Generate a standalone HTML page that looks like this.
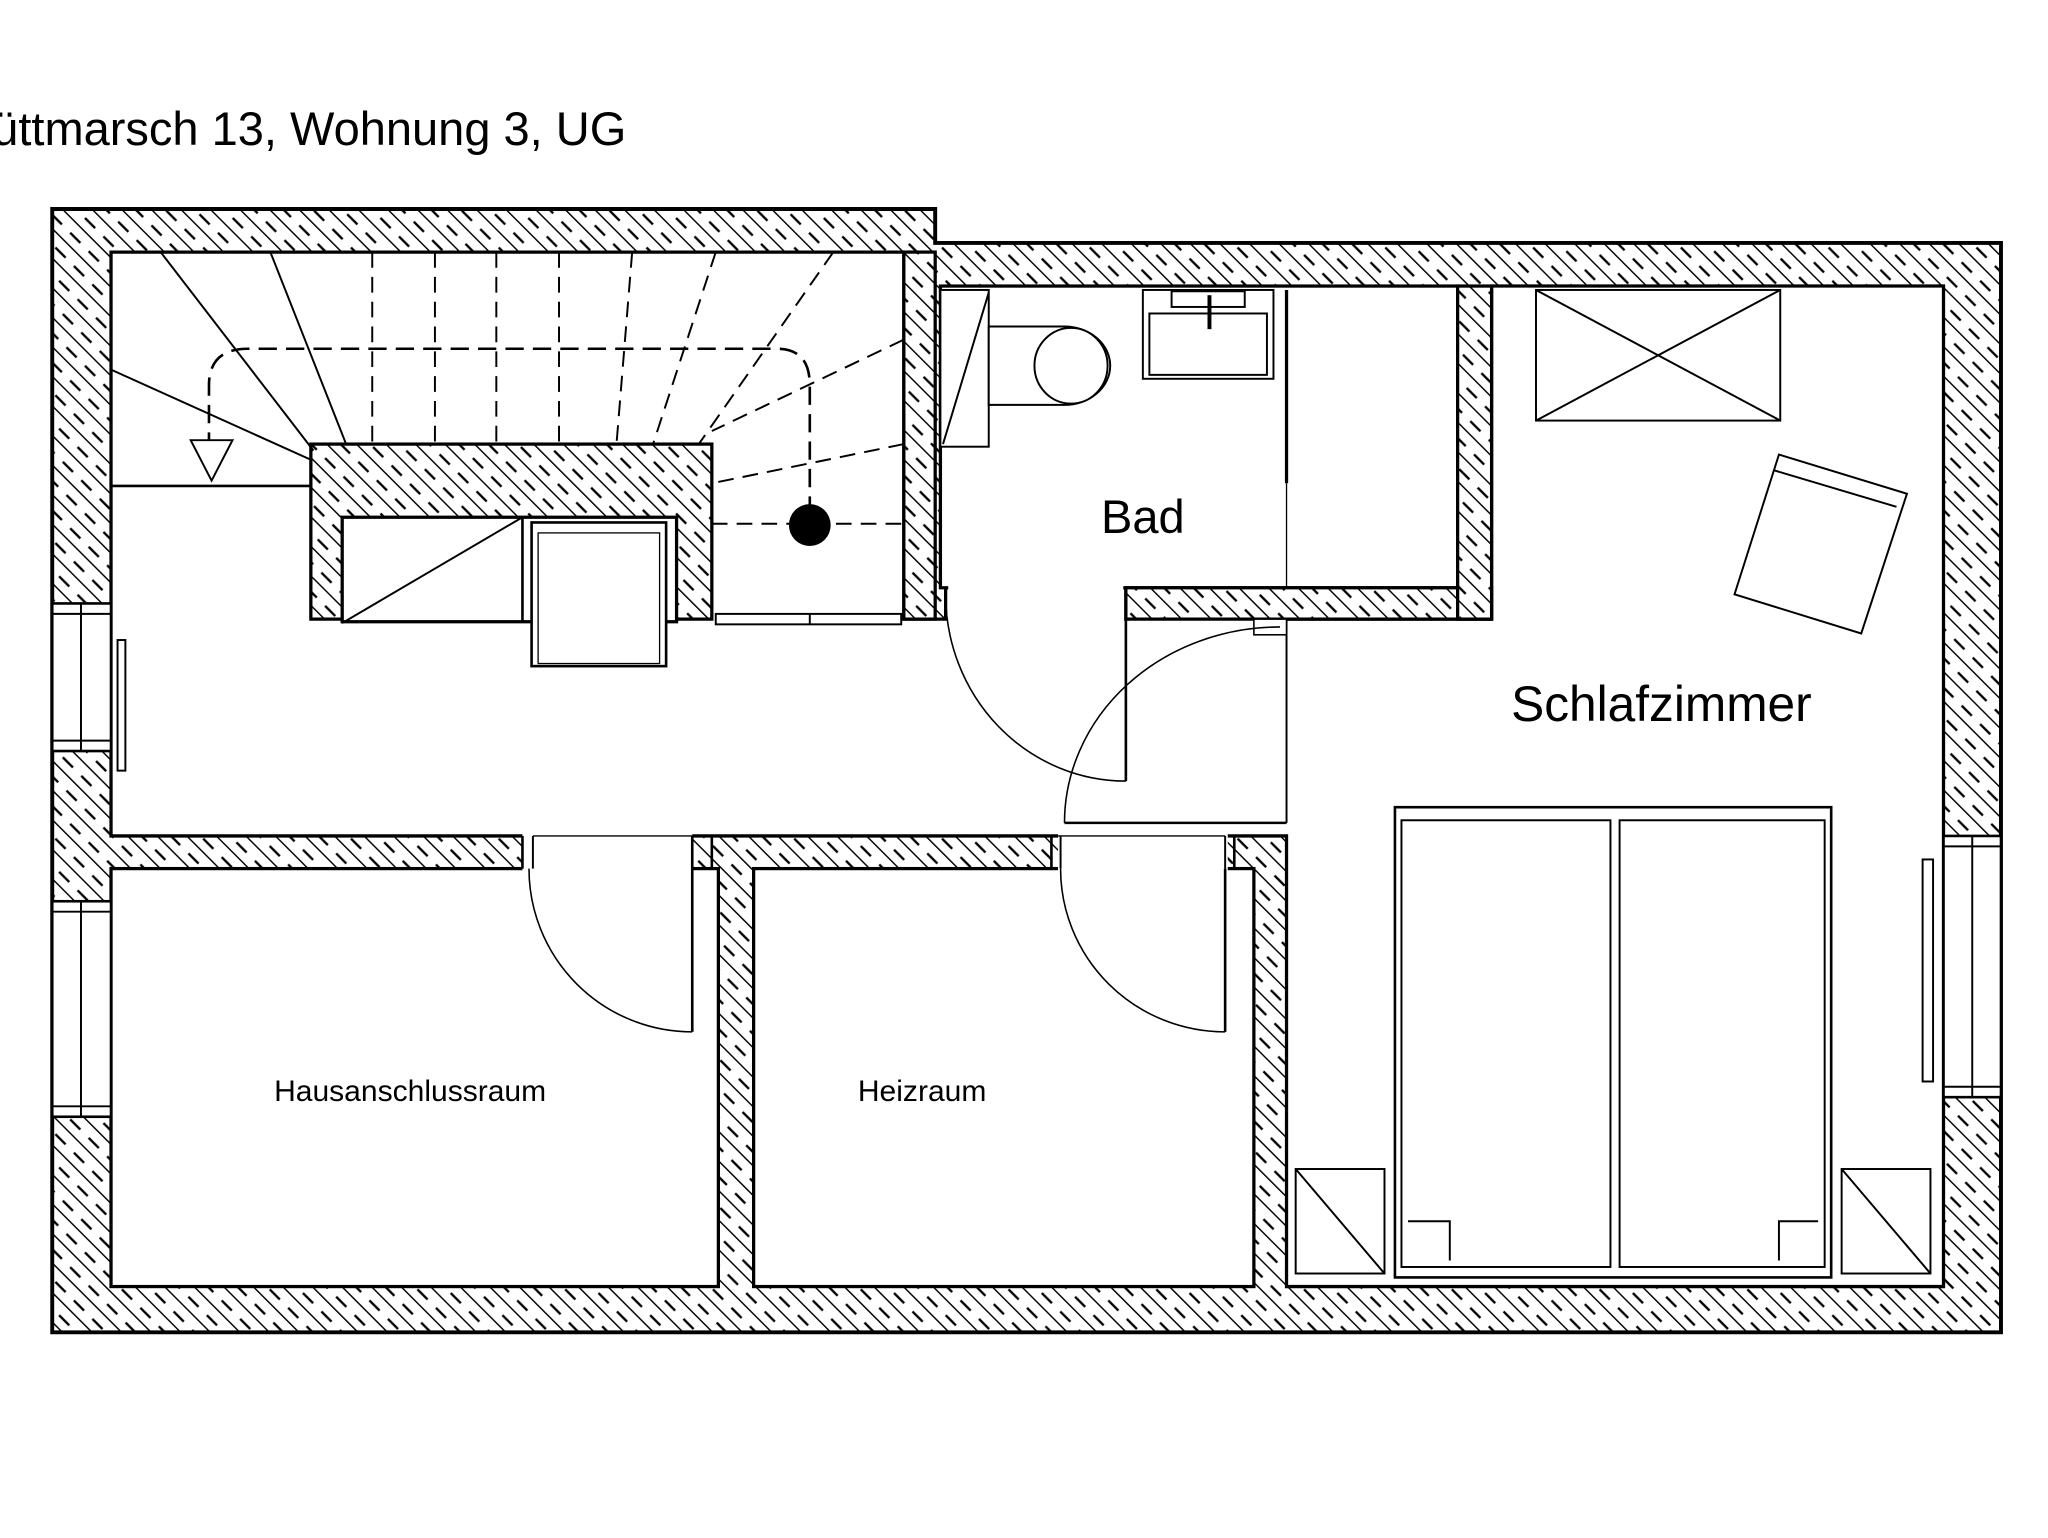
<!DOCTYPE html>
<html><head><meta charset="utf-8"><style>
html,body{margin:0;padding:0;background:#fff;}
svg{display:block;}
text{font-family:"Liberation Sans",sans-serif;fill:#000;}
</style></head><body>
<svg width="2048" height="1538" viewBox="0 0 1568 1177.5" preserveAspectRatio="none" xmlns="http://www.w3.org/2000/svg">
<defs>
<pattern id="h" patternUnits="userSpaceOnUse" width="16" height="20" patternTransform="rotate(-45)">
<rect width="16" height="20" fill="#fff"/>
<line x1="0" y1="0" x2="0" y2="20" stroke="#000" stroke-width="2.2"/>
<line x1="8" y1="4" x2="8" y2="15" stroke="#000" stroke-width="1.8"/>
</pattern>
</defs>
<rect width="1568" height="1177.5" fill="#fff"/>
<text x="-6" y="111" font-size="36">üttmarsch 13, Wohnung 3, UG</text>

<polygon points="40,160 716,160 716,186 1532,186 1532,1020 40,1020" fill="url(#h)" stroke="#000" stroke-width="3"/>

<g fill="#fff" stroke="#000" stroke-width="2.5">
<polygon points="85,193 692,193 692,474 724,474 724,450 862,450 862,474 1142,474 1142,219 1488,219 1488,985 985,985 985,640 85,640"/>
<rect x="720" y="219" width="396" height="231"/>
<rect x="85" y="665" width="465" height="320"/>
<rect x="577" y="665" width="383" height="320"/>
</g>
<rect x="726" y="447" width="134" height="6" fill="#fff"/>
<rect x="864" y="474" width="119" height="4" fill="#fff"/>
<rect x="862" y="450" width="280" height="24" fill="url(#h)" stroke="#000" stroke-width="2.5"/>
<rect x="692" y="193" width="24" height="281" fill="url(#h)" stroke="#000" stroke-width="2.5"/>
<rect x="1116" y="219" width="26" height="255" fill="url(#h)" stroke="#000" stroke-width="2.5"/>
<line x1="985" y1="474" x2="985" y2="630" stroke="#000" stroke-width="1.5"/>
<rect x="960" y="474" width="25" height="12" fill="#fff" stroke="#000" stroke-width="1.2"/>
<rect x="400" y="638" width="130" height="29" fill="#fff"/>
<rect x="810" y="638" width="130" height="29" fill="#fff"/>
<line x1="400" y1="640" x2="400" y2="665" stroke="#000" stroke-width="2"/><line x1="408" y1="640" x2="408" y2="665" stroke="#000" stroke-width="1.5"/>
<line x1="530" y1="640" x2="530" y2="665" stroke="#000" stroke-width="2"/><line x1="545" y1="640" x2="545" y2="665" stroke="#000" stroke-width="2"/>
<line x1="805" y1="640" x2="805" y2="665" stroke="#000" stroke-width="2"/><line x1="812" y1="640" x2="812" y2="665" stroke="#000" stroke-width="1.5"/>
<line x1="938" y1="640" x2="938" y2="665" stroke="#000" stroke-width="1.5"/><line x1="945" y1="640" x2="945" y2="665" stroke="#000" stroke-width="2"/>
<line x1="408" y1="640" x2="938" y2="640" stroke="#000" stroke-width="1"/>

<g fill="#fff" stroke="#000" stroke-width="2">
<rect x="40" y="462" width="45" height="113"/><rect x="40" y="690" width="45" height="165"/><rect x="1488" y="640" width="44" height="200"/>
</g>
<g stroke="#000" stroke-width="1.5">
<line x1="62" y1="462" x2="62" y2="575"/><line x1="40" y1="470" x2="85" y2="470"/><line x1="40" y1="567" x2="85" y2="567"/>
<line x1="62" y1="690" x2="62" y2="855"/><line x1="40" y1="698" x2="85" y2="698"/><line x1="40" y1="847" x2="85" y2="847"/>
<line x1="1510" y1="640" x2="1510" y2="840"/><line x1="1488" y1="648" x2="1532" y2="648"/><line x1="1488" y1="832" x2="1532" y2="832"/>
</g>
<rect x="90" y="490" width="6" height="100" fill="#fff" stroke="#000" stroke-width="1.5"/>
<rect x="1472" y="658" width="8" height="170" fill="#fff" stroke="#000" stroke-width="1.5"/>

<rect x="238" y="340" width="307" height="134" fill="url(#h)" stroke="#000" stroke-width="2.5"/>
<rect x="262" y="396" width="256" height="80" fill="#fff" stroke="#000" stroke-width="2.5"/>
<line x1="262" y1="477" x2="400" y2="396" stroke="#000" stroke-width="1.5"/>
<line x1="400" y1="396" x2="400" y2="477" stroke="#000" stroke-width="2"/>
<rect x="407" y="400" width="103" height="110" fill="#fff" stroke="#000" stroke-width="2"/>
<rect x="412" y="408" width="93" height="100" fill="none" stroke="#000" stroke-width="1"/>
<rect x="548" y="470" width="142" height="8" fill="#fff" stroke="#000" stroke-width="1.5"/>
<line x1="620" y1="470" x2="620" y2="478" stroke="#000" stroke-width="1.5"/>

<g stroke="#000" stroke-width="1.5" fill="none">
<line x1="123" y1="193" x2="240" y2="345"/><line x1="207" y1="193" x2="265" y2="340"/><line x1="85" y1="283" x2="238" y2="352"/>
<line x1="85" y1="372" x2="238" y2="372" stroke-width="2"/>
</g>
<g stroke="#000" stroke-width="1.5" fill="none" stroke-dasharray="12 7">
<line x1="285" y1="193" x2="285" y2="340"/><line x1="333" y1="193" x2="333" y2="340"/><line x1="380" y1="193" x2="380" y2="340"/><line x1="428" y1="193" x2="428" y2="340"/>
<line x1="484" y1="193" x2="472" y2="340"/><line x1="548" y1="193" x2="500" y2="340"/><line x1="638" y1="193" x2="535" y2="340"/>
<line x1="692" y1="260" x2="545" y2="330"/><line x1="692" y1="340" x2="545" y2="370"/>
<line x1="545" y1="401" x2="692" y2="401"/>
<line x1="265" y1="340" x2="545" y2="340"/>
</g>
<path d="M160,345 L160,295 Q160,267 190,267 L595,267 Q620,267 620,295 L620,400" fill="none" stroke="#000" stroke-width="2" stroke-dasharray="14 7"/>
<polygon points="146,337 178,337 162,368" fill="#fff" stroke="#000" stroke-width="1.5"/>
<circle cx="620" cy="402" r="16" fill="#000"/>

<g stroke="#000" fill="#fff" stroke-width="1.5">
<rect x="720" y="222" width="37" height="120"/>
<line x1="722" y1="340" x2="757" y2="224"/>
<path d="M757,250 L815,250 A35,30 0 0 1 815,310 L757,310 Z"/>
<ellipse cx="820" cy="280" rx="28" ry="29"/>
<rect x="875" y="222" width="100" height="68"/>
<rect x="880" y="240" width="90" height="47"/>
<rect x="897" y="223" width="56" height="12"/>
</g>
<line x1="926" y1="226" x2="926" y2="252" stroke="#000" stroke-width="3"/>
<line x1="985" y1="222" x2="985" y2="370" stroke="#000" stroke-width="2.5"/>
<line x1="985" y1="370" x2="985" y2="450" stroke="#000" stroke-width="1"/>

<g stroke="#000" fill="none">
<line x1="862" y1="455" x2="862" y2="598" stroke-width="2"/>
<path d="M724,455 A138,143 0 0 0 862,598" stroke-width="1.2"/>
<line x1="815" y1="630" x2="985" y2="630" stroke-width="2"/>
<path d="M815,630 A165,150 0 0 1 980,480" stroke-width="1.2"/>
<line x1="530" y1="665" x2="530" y2="790" stroke-width="2"/>
<path d="M405,665 A125,125 0 0 0 530,790" stroke-width="1.2"/>
<line x1="938" y1="665" x2="938" y2="790" stroke-width="2"/>
<path d="M812,665 A126,125 0 0 0 938,790" stroke-width="1.2"/>
</g>

<g stroke="#000" fill="none" stroke-width="1.5">
<rect x="1176" y="222" width="187" height="100"/>
<line x1="1176" y1="222" x2="1363" y2="322"/><line x1="1363" y1="222" x2="1176" y2="322"/>
<polygon points="1362,348 1460,378 1425,485 1328,455" fill="#fff"/>
<polyline points="1358,360 1452,388"/>
<rect x="1068" y="618" width="334" height="360" fill="#fff" stroke-width="2"/>
<rect x="1073" y="628" width="160" height="342"/>
<rect x="1240" y="628" width="157" height="342"/>
<path d="M1078,935 L1110,935 L1110,965"/>
<path d="M1392,935 L1362,935 L1362,965"/>
<rect x="992" y="895" width="68" height="80" fill="#fff"/>
<line x1="992" y1="895" x2="1060" y2="975"/>
<rect x="1410" y="895" width="68" height="80" fill="#fff"/>
<line x1="1410" y1="895" x2="1478" y2="975"/>
</g>

<text x="875" y="408" font-size="36" text-anchor="middle">Bad</text>
<text x="1272" y="552" font-size="38" text-anchor="middle">Schlafzimmer</text>
<text x="314" y="843" font-size="23" text-anchor="middle">Hausanschlussraum</text>
<text x="706" y="843" font-size="23" text-anchor="middle">Heizraum</text>
</svg>
</body></html>
